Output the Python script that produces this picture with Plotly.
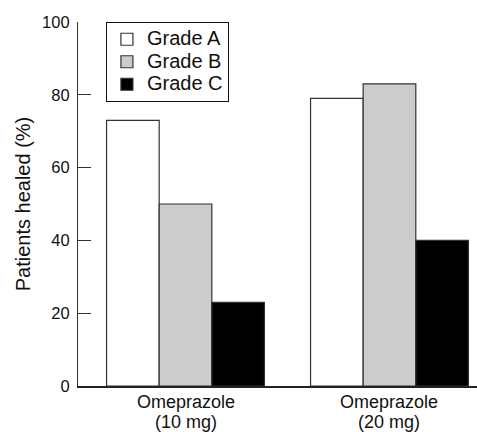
import plotly.graph_objects as go

drug_names = ["Omeprazole", "Omeprazole"]
doses = ["(10 mg)", "(20 mg)"]
categories = ["Omeprazole (10 mg)", "Omeprazole (20 mg)"]
series_names = ["Grade A", "Grade B", "Grade C"]
grade_a = [73, 79]
grade_b = [50, 83]
grade_c = [23, 40]
y_ticks = [0, 20, 40, 60, 80, 100]

fills = ["#ffffff", "#cccccc", "#000000"]
fig = go.Figure()
for name, vals, col in zip(series_names, [grade_a, grade_b, grade_c], fills):
    fig.add_trace(go.Bar(
        x=categories, y=vals,
        name='<span style="font-size:20px">' + name + "</span>",
        marker=dict(color=col, line=dict(color="#333333", width=1.2)),
    ))

# two-line category labels placed at each category on the x axis
for cat, drug, dose in zip(categories, drug_names, doses):
    fig.add_annotation(x=cat, xref="x", y=0, yref="paper", text=drug,
                       showarrow=False, yanchor="top", yshift=-4,
                       font=dict(size=18))
    fig.add_annotation(x=cat, xref="x", y=0, yref="paper", text=dose,
                       showarrow=False, yanchor="top", yshift=-24,
                       font=dict(size=18))

fig.update_layout(
    width=477, height=432,
    margin=dict(l=78, r=0, t=22, b=46),
    paper_bgcolor="white", plot_bgcolor="white",
    barmode="group", bargap=0.226, bargroupgap=0,
    font=dict(family="Liberation Sans, Arial, sans-serif", size=16, color="#111111"),
    showlegend=True,
    legend=dict(
        x=0.07, y=1.0, xanchor="left", yanchor="top",
        bordercolor="#111111", borderwidth=1, bgcolor="white",
        font=dict(size=15), tracegroupgap=0, itemwidth=30,
    ),
    xaxis=dict(
        range=[-0.527, 1.429], showline=True, linecolor="#222222", linewidth=1.5,
        ticks="", showgrid=False, zeroline=False, showticklabels=False,
        automargin=False,
    ),
    yaxis=dict(
        range=[0, 100], tickvals=y_ticks, ticks="inside", ticklen=13,
        tickcolor="#333333", tickwidth=1.2,
        showline=True, linecolor="#333333", linewidth=1.2,
        showgrid=False, zeroline=False, tickfont=dict(size=16.5),
        ticklabelstandoff=4, automargin=False,
        title=dict(text="Patients healed (%)", font=dict(size=20), standoff=6),
    ),
)

fig.write_html("out.html", config={"displayModeBar": False},
               post_script="document.body.style.margin='0px';")
